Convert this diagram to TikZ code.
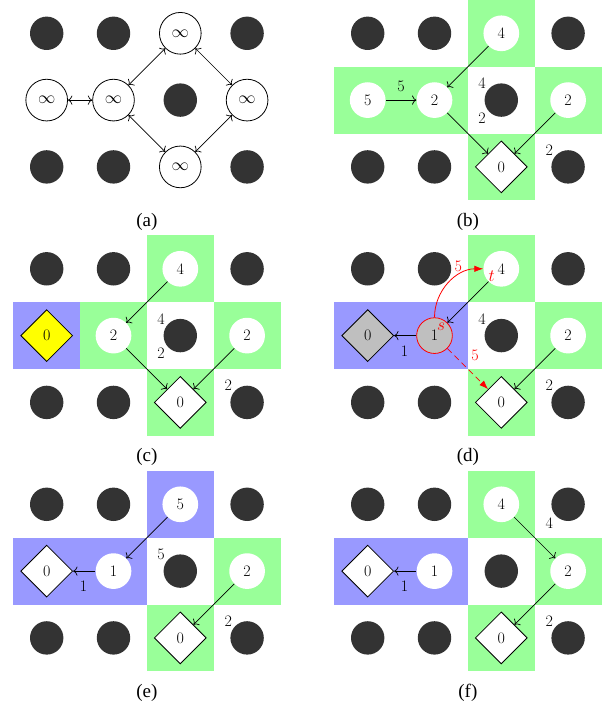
\documentclass[tikz,border=0pt]{standalone}
\usepackage{fontspec}
\newfontfamily\capfont{Liberation Serif}
\usetikzlibrary{shapes.geometric,arrows.meta}
\definecolor{cellgreen}{RGB}{153,255,153}
\definecolor{cellblue}{RGB}{153,153,255}
\definecolor{dotgray}{RGB}{51,51,51}
\definecolor{nodegray}{RGB}{191,191,191}
\definecolor{ylw}{RGB}{255,255,0}
\tikzset{
  darkdot/.style={circle, fill=dotgray, minimum size=33.4pt, inner sep=0pt},
  infnode/.style={circle, draw, line width=0.8pt, fill=white, minimum size=41.7pt, inner sep=0pt},
  wnode/.style={circle, fill=white, minimum size=35.7pt, inner sep=0pt},
  dnode/.style={diamond, draw, line width=0.8pt, fill=white, minimum size=52pt, inner sep=0pt},
  arr/.style={-{To[scale=1.4]}, line width=0.7pt},
  dblarr/.style={{To[scale=1.4]}-{To[scale=1.4]}, line width=0.7pt},
  redarr/.style={-{Latex[length=9pt,width=6.5pt]}, red, line width=0.8pt},
  lbl/.style={inner sep=0pt},
  captxt/.style={font=\capfont\fontsize{19}{22}\selectfont},
  cellbox/.style={minimum size=66.8pt, inner sep=0pt, draw=none, outer sep=0pt},
}
\newcommand{\darkgrid}[1]{%
  \foreach \c/\r in {0/0,1/0,3/0,2/1,0/2,1/2,3/2}{\node[darkdot] (#1d\c\r) at (\c,\r) {};}}
\begin{document}
\begin{tikzpicture}[x=66.8pt, y=-66.8pt, font=\fontsize{16}{19}\selectfont]
\useasboundingbox[fill=white] (0pt,0pt) rectangle (610pt,-706pt);

% ---------------- (a)
\begin{scope}[shift={(46.7pt,-33.3pt)}]
\darkgrid{a}
\node[infnode] (a20) at (2,0) {$\infty$};
\node[infnode] (a01) at (0,1) {$\infty$};
\node[infnode] (a11) at (1,1) {$\infty$};
\node[infnode] (a31) at (3,1) {$\infty$};
\node[infnode] (a22) at (2,2) {$\infty$};
\draw[dblarr] (a01) -- (a11);
\draw[dblarr] (a11) -- (a20);
\draw[dblarr] (a20) -- (a31);
\draw[dblarr] (a11) -- (a22);
\draw[dblarr] (a22) -- (a31);
\node[captxt] (acap) at (1.5,2.82) {(a)};
\end{scope}

% ---------------- (b)
\begin{scope}[shift={(367.7pt,-33.3pt)}]
\foreach \c/\r in {2/0,0/1,1/1,3/1,2/2}{\node[cellbox, fill=cellgreen] (bc\c\r) at (\c,\r) {};}
\darkgrid{b}
\node[wnode] (b20) at (2,0) {4};
\node[wnode] (b01) at (0,1) {5};
\node[wnode] (b11) at (1,1) {2};
\node[wnode] (b31) at (3,1) {2};
\node[dnode] (b22) at (2,2) {0};
\draw[arr] (b01) -- (b11);
\draw[arr] (b20) -- (b11);
\draw[arr] (b11) -- (b22);
\draw[arr] (b31) -- (b22);
\node[lbl] (bl1) at (0.5,0.79) {5};
\node[lbl] (bl2) at (1.71,0.75) {4};
\node[lbl] (bl3) at (1.71,1.27) {2};
\node[lbl] (bl4) at (2.72,1.75) {2};
\node[captxt] (bcap) at (1.5,2.82) {(b)};
\end{scope}

% ---------------- (c)
\begin{scope}[shift={(46.7pt,-268.8pt)}]
\node[cellbox, fill=cellblue] (cc01) at (0,1) {};
\foreach \c/\r in {1/1,2/0,2/2,3/1}{\node[cellbox, fill=cellgreen] (cc\c\r) at (\c,\r) {};}
\darkgrid{c}
\node[dnode, fill=ylw] (c01) at (0,1) {0};
\node[wnode] (c20) at (2,0) {4};
\node[wnode] (c11) at (1,1) {2};
\node[wnode] (c31) at (3,1) {2};
\node[dnode] (c22) at (2,2) {0};
\draw[arr] (c20) -- (c11);
\draw[arr] (c11) -- (c22);
\draw[arr] (c31) -- (c22);
\node[lbl] (cl1) at (1.71,0.75) {4};
\node[lbl] (cl2) at (1.71,1.27) {2};
\node[lbl] (cl3) at (2.72,1.75) {2};
\node[captxt] (ccap) at (1.5,2.82) {(c)};
\end{scope}

% ---------------- (d)
\begin{scope}[shift={(367.7pt,-268.8pt)}]
\foreach \c/\r in {0/1,1/1}{\node[cellbox, fill=cellblue] (dc\c\r) at (\c,\r) {};}
\foreach \c/\r in {2/0,2/2,3/1}{\node[cellbox, fill=cellgreen] (dc\c\r) at (\c,\r) {};}
\darkgrid{d}
\node[dnode, fill=nodegray] (d01) at (0,1) {0};
\node[wnode, fill=nodegray, draw=red, line width=0.8pt] (d11) at (1,1) {1};
\node[wnode] (d20) at (2,0) {4};
\node[wnode] (d31) at (3,1) {2};
\node[dnode] (d22) at (2,2) {0};
\draw[arr] (d20) -- (d11);
\draw[arr] (d11) -- (d01);
\draw[arr] (d31) -- (d22);
\draw[redarr] (d11.north) to[out=90,in=180] (d20.west);
\draw[redarr, dash pattern=on 6pt off 4pt] (d11) -- (d22);
\node[lbl] (dl1) at (1.71,0.75) {4};
\node[lbl] (dl2) at (0.55,1.23) {1};
\node[lbl] (dl3) at (2.72,1.75) {2};
\node[lbl, text=red] (dl4) at (1.356,-0.04) {5};
\node[lbl, text=red] (dl5) at (1.606,1.29) {5};
\node[lbl, text=red] (ds) at (1.097,0.867) {$s$};
\node[lbl, text=red] (dt) at (1.856,0.118) {$t$};
\node[captxt] (dcap) at (1.5,2.82) {(d)};
\end{scope}

% ---------------- (e)
\begin{scope}[shift={(46.7pt,-504.3pt)}]
\foreach \c/\r in {2/0,0/1,1/1}{\node[cellbox, fill=cellblue] (ec\c\r) at (\c,\r) {};}
\foreach \c/\r in {3/1,2/2}{\node[cellbox, fill=cellgreen] (ec\c\r) at (\c,\r) {};}
\darkgrid{e}
\node[dnode] (e01) at (0,1) {0};
\node[wnode] (e11) at (1,1) {1};
\node[wnode] (e20) at (2,0) {5};
\node[wnode] (e31) at (3,1) {2};
\node[dnode] (e22) at (2,2) {0};
\draw[arr] (e20) -- (e11);
\draw[arr] (e11) -- (e01);
\draw[arr] (e31) -- (e22);
\node[lbl] (el1) at (1.71,0.75) {5};
\node[lbl] (el2) at (0.55,1.23) {1};
\node[lbl] (el3) at (2.72,1.75) {2};
\node[captxt] (ecap) at (1.5,2.82) {(e)};
\end{scope}

% ---------------- (f)
\begin{scope}[shift={(367.7pt,-504.3pt)}]
\foreach \c/\r in {0/1,1/1}{\node[cellbox, fill=cellblue] (fc\c\r) at (\c,\r) {};}
\foreach \c/\r in {2/0,3/1,2/2}{\node[cellbox, fill=cellgreen] (fc\c\r) at (\c,\r) {};}
\darkgrid{f}
\node[dnode] (f01) at (0,1) {0};
\node[wnode] (f11) at (1,1) {1};
\node[wnode] (f20) at (2,0) {4};
\node[wnode] (f31) at (3,1) {2};
\node[dnode] (f22) at (2,2) {0};
\draw[arr] (f11) -- (f01);
\draw[arr] (f20) -- (f31);
\draw[arr] (f31) -- (f22);
\node[lbl] (fl1) at (0.55,1.23) {1};
\node[lbl] (fl2) at (2.72,0.28) {4};
\node[lbl] (fl3) at (2.72,1.75) {2};
\node[captxt] (fcap) at (1.5,2.82) {(f)};
\end{scope}
\end{tikzpicture}
\end{document}
